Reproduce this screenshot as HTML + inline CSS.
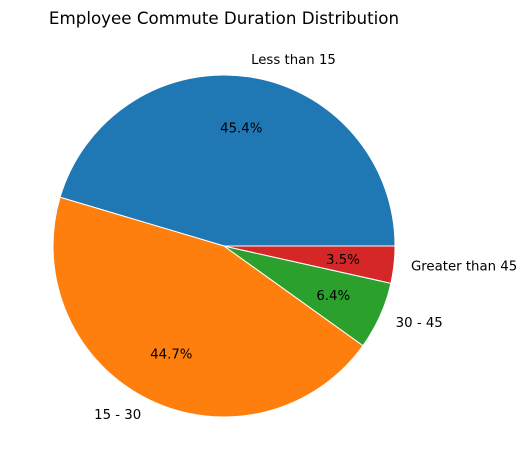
<!DOCTYPE html>
<html><head><meta charset="utf-8"><style>
body{margin:0;background:#fff;}
svg{display:block;font-family:"DejaVu Sans","Liberation Sans",sans-serif;}
</style></head><body>
<svg id="chart" width="531" height="470">
<text x="224" y="24" text-anchor="middle" font-size="16.7" fill="#000">Employee Commute Duration Distribution</text>
<g id="slices"></g>
</svg>
<script>
const categories = ["Less than 15", "15 - 30", "30 - 45", "Greater than 45"];
const values = [45.4, 44.7, 6.4, 3.5];
const colors = ["#1f77b4", "#ff7f0e", "#2ca02c", "#d62728"];
const cx = 224, cy = 246, r = 171;
const g = document.getElementById('slices');
const NS = "http://www.w3.org/2000/svg";
const total = values.reduce((a, b) => a + b, 0);
let start = 0;
function pt(a, rr) { return [cx + rr * Math.cos(a), cy - rr * Math.sin(a)]; }
values.forEach((v, i) => {
  const sweep = v / total * 2 * Math.PI;
  const end = start + sweep;
  const [x1, y1] = pt(start, r), [x2, y2] = pt(end, r);
  const large = sweep > Math.PI ? 1 : 0;
  const p = document.createElementNS(NS, 'path');
  p.setAttribute('d', `M${cx},${cy} L${x1},${y1} A${r},${r} 0 ${large} 0 ${x2},${y2} Z`);
  p.setAttribute('fill', colors[i]);
  p.setAttribute('stroke', '#fff');
  p.setAttribute('stroke-width', '1');
  
  
  g.appendChild(p);
  const mid = start + sweep / 2;
  const [lx, ly] = pt(mid, r * 1.1);
  const t = document.createElementNS(NS, 'text');
  t.setAttribute('x', lx); t.setAttribute('y', ly + 4);
  t.setAttribute('font-size', '13.3');
  t.setAttribute('text-anchor', Math.cos(mid) >= 0 ? 'start' : 'end');
  t.textContent = categories[i];
  
  
  g.appendChild(t);
  const [px, py] = pt(mid, r * 0.7);
  const tp = document.createElementNS(NS, 'text');
  tp.setAttribute('x', px); tp.setAttribute('y', py + 5);
  tp.setAttribute('font-size', '13.3');
  tp.setAttribute('text-anchor', 'middle');
  tp.textContent = v.toFixed(1) + '%';
  
  
  g.appendChild(tp);
  start = end;
});
</script>
</body></html>
